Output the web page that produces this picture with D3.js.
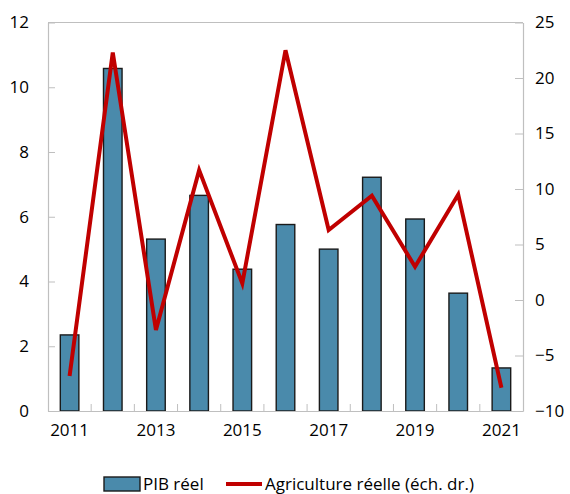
<!DOCTYPE html>
<html>
<head>
<meta charset="utf-8">
<script src="https://cdn.jsdelivr.net/npm/d3@7"></script>
<style>
  html, body { margin: 0; padding: 0; background: #ffffff; }
  svg { display: block; font-family: "Open Sans", "Noto Sans", sans-serif; }
</style>
</head>
<body>
<svg id="chart" width="570" height="494"></svg>
<script>
// ---- data ----
const years = [2011, 2012, 2013, 2014, 2015, 2016, 2017, 2018, 2019, 2020, 2021];
const pibReel = [2.35, 10.58, 5.31, 6.66, 4.38, 5.76, 5.0, 7.22, 5.93, 3.64, 1.33];
const agricultureReelle = [-6.85, 22.3, -2.7, 11.7, 1.5, 22.5, 6.3, 9.4, 3.0, 9.5, -7.9];
const labeledYears = [2011, 2013, 2015, 2017, 2019, 2021];
const leftTicks = [0, 2, 4, 6, 8, 10, 12];
const rightTicks = [-10, -5, 0, 5, 10, 15, 20, 25];
const seriesNames = ["PIB réel", "Agriculture réelle (éch. dr.)"];

(function () {
// ---- layout ----
const pLeft = 48, pRight = 523, pTop = 22.5, pBottom = 411;
const axisColor = "#bfbfbf";
const barColor = "#4a8aab";
const lineColor = "#c00000";
const fontSize = 17;

const svg = d3.select("#chart");

const x = d3.scaleBand().domain(years).range([pLeft, pRight])
  .paddingInner(0.57).paddingOuter(0.285);
const yL = d3.scaleLinear().domain([0, 12]).range([pBottom, pTop]);
const yR = d3.scaleLinear().domain([-10, 25]).range([pBottom, pTop]);

// bars
svg.append("g").selectAll("rect").data(years).join("rect")
  .attr("x", d => x(d))
  .attr("width", x.bandwidth())
  .attr("y", (d, i) => yL(pibReel[i]))
  .attr("height", (d, i) => yL(0) - yL(pibReel[i]))
  .attr("fill", barColor)
  .attr("stroke", "#1a1a1a")
  .attr("stroke-width", 1.4);

// left axis
const gL = svg.append("g").attr("transform", `translate(${pLeft},0)`)
  .call(d3.axisLeft(yL).tickValues(leftTicks).tickSize(-7).tickSizeOuter(0).tickPadding(19));
// right axis
const gR = svg.append("g").attr("transform", `translate(${pRight},0)`)
  .call(d3.axisRight(yR).tickValues(rightTicks).tickSize(-8).tickSizeOuter(0).tickPadding(12));
// bottom axis
const gB = svg.append("g").attr("transform", `translate(0,${pBottom})`)
  .call(d3.axisBottom(x).tickValues(labeledYears).tickSize(0).tickSizeOuter(0).tickPadding(13));

// category boundary ticks
const gap = (x.step() - x.bandwidth()) / 2;
gB.append("g").selectAll("line").data(years.slice(1)).join("line")
  .attr("x1", d => x(d) - gap).attr("x2", d => x(d) - gap)
  .attr("y1", 0).attr("y2", -7)
  .attr("stroke", axisColor).attr("stroke-width", 1);

[gL, gR, gB].forEach(g => {
  g.selectAll(".domain").attr("stroke", axisColor).attr("stroke-width", 1.2);
  g.selectAll(".tick line").attr("stroke", axisColor);
  g.selectAll(".tick text").attr("fill", "#000").style("font-size", fontSize + "px")
    .style("font-family", '"Open Sans", "Noto Sans", sans-serif');
});
// top border line of plot area
svg.append("line").attr("x1", pLeft).attr("x2", pRight).attr("y1", pTop).attr("y2", pTop)
  .attr("stroke", axisColor).attr("stroke-width", 1.2);

// line
const line = d3.line()
  .x((d, i) => x(years[i]) + x.bandwidth() / 2)
  .y(d => yR(d));
svg.append("path").datum(agricultureReelle)
  .attr("d", line)
  .attr("fill", "none")
  .attr("stroke", lineColor)
  .attr("stroke-width", 4)
  .attr("stroke-linejoin", "miter");

// legend
const lg = svg.append("g");
const ly = 484;
lg.append("rect").attr("x", 104).attr("y", ly - 7).attr("width", 36).attr("height", 14)
  .attr("fill", barColor).attr("stroke", "#1a1a1a").attr("stroke-width", 1.4);
lg.append("text").attr("x", 143).attr("y", ly).attr("dy", "0.35em")
  .style("font-size", fontSize + "px").text(seriesNames[0]);
lg.append("line").attr("x1", 226).attr("x2", 262).attr("y1", ly).attr("y2", ly)
  .attr("stroke", lineColor).attr("stroke-width", 4);
lg.append("text").attr("x", 265).attr("y", ly).attr("dy", "0.35em")
  .style("font-size", fontSize + "px").text(seriesNames[1]);
})();
</script>
</body>
</html>
